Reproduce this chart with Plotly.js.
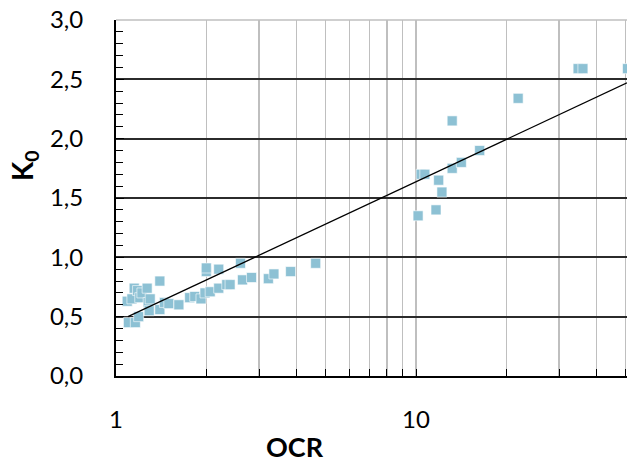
<!DOCTYPE html>
<html>
<head>
<meta charset="utf-8">
<script src="https://cdn.plot.ly/plotly-3.0.1.min.js"></script>
<style>
html,body{margin:0;padding:0;background:#fff;}
#chart{width:627px;height:464px;}
</style>
</head>
<body>
<div id="chart"></div>
<script>
// Measured data points (OCR, K0)
const ocrValues = [
  1.09, 1.10, 1.13, 1.15, 1.16, 1.18, 1.19, 1.20, 1.22, 1.27, 1.28, 1.29, 1.30,
  1.40, 1.40, 1.45, 1.50, 1.62, 1.76, 1.83, 1.92, 1.98, 2.00, 2.00, 2.06, 2.20,
  2.20, 2.34, 2.40, 2.60, 2.64, 2.83, 3.22, 3.36, 3.82, 4.63,
  10.16, 10.4, 10.7, 11.66, 11.9, 12.2, 13.2, 13.2, 14.16, 16.3, 21.9, 34.7, 36.0, 50.7
];
const k0Values = [
  0.63, 0.45, 0.65, 0.74, 0.45, 0.72, 0.50, 0.66, 0.70, 0.74, 0.62, 0.55, 0.65,
  0.80, 0.56, 0.62, 0.61, 0.60, 0.66, 0.67, 0.65, 0.70, 0.88, 0.91, 0.71, 0.90,
  0.74, 0.77, 0.77, 0.95, 0.81, 0.83, 0.82, 0.86, 0.88, 0.95,
  1.35, 1.70, 1.70, 1.40, 1.65, 1.55, 1.75, 2.15, 1.80, 1.90, 2.34, 2.59, 2.59, 2.59
];
// Logarithmic trend line (straight on the log axis), end points
const trendOcr = [1.096, 50.5];
const trendK0 = [0.50, 2.47];

const xTickVals = [1, 10];
const xTickText = ['1', '10'];
const yTickVals = [0, 0.5, 1.0, 1.5, 2.0, 2.5, 3.0];
const xTitle = '<b>OCR</b>';
const yTitle = '<b>K<sub>0</sub></b>';

const font = 'Lato, "Open Sans", sans-serif';

const traces = [
  {
    x: ocrValues, y: k0Values, type: 'scatter', mode: 'markers',
    marker: {symbol: 'square', size: 10, color: '#8dc1d4', line: {color: '#ffffff', width: 0.6}},
    showlegend: false, hoverinfo: 'x+y'
  },
  {
    x: trendOcr, y: trendK0, type: 'scatter', mode: 'lines',
    line: {color: '#000000', width: 1.3},
    showlegend: false, hoverinfo: 'skip'
  }
];

const layout = {
  width: 627, height: 464,
  margin: {l: 116, r: 0, t: 20, b: 88, pad: 0},
  paper_bgcolor: '#ffffff', plot_bgcolor: '#ffffff',
  separators: ', ',
  font: {family: font, size: 24, color: '#000000'},
  xaxis: {
    type: 'log',
    range: [0, Math.log10(50.5)],
    tickvals: xTickVals, ticktext: xTickText,
    ticks: 'inside', ticklen: 7, tickwidth: 1, tickcolor: '#000',
    showline: true, linecolor: '#000', linewidth: 2,
    showgrid: true, gridcolor: '#bfbfbf', gridwidth: 1.5,
    zeroline: false,
    ticklabelstandoff: 21,
    minor: {dtick: 'D1', ticks: 'inside', ticklen: 7, tickwidth: 1, tickcolor: '#000',
            showgrid: true, gridcolor: '#bfbfbf', gridwidth: 1.5},
    tickfont: {family: font, size: 24, color: '#000'}
  },
  yaxis: {
    range: [0, 3],
    tickvals: yTickVals, tickformat: '.1f',
    ticks: 'inside', ticklen: 8, tickwidth: 1, tickcolor: '#000',
    showline: true, linecolor: '#000', linewidth: 2,
    showgrid: true, gridcolor: '#2b2b2b', gridwidth: 1.9,
    zeroline: false,
    ticklabelstandoff: 26,
    minor: {dtick: 0.1, ticks: 'inside', ticklen: 7, tickwidth: 1, tickcolor: '#000', showgrid: false},
    tickfont: {family: font, size: 24, color: '#000'}
  },
  annotations: [
    {text: xTitle, xref: 'paper', yref: 'paper', x: 0.350, y: -0.2472,
     xanchor: 'center', yanchor: 'bottom', showarrow: false, borderpad: 0,
     font: {family: font, size: 27, color: '#000'}},
    {text: yTitle, xref: 'paper', yref: 'paper', x: -0.180, y: 0.59,
     xanchor: 'center', yanchor: 'middle', showarrow: false, textangle: -90,
     font: {family: font, size: 28, color: '#000'}}
  ],
  shapes: [
    {type: 'line', xref: 'paper', yref: 'paper', x0: 0, x1: 1, y0: 1, y1: 1,
     line: {color: '#bfbfbf', width: 1.5}, layer: 'below'}
  ]
};

Plotly.newPlot('chart', traces, layout, {displayModeBar: false, staticPlot: true});
</script>
</body>
</html>
